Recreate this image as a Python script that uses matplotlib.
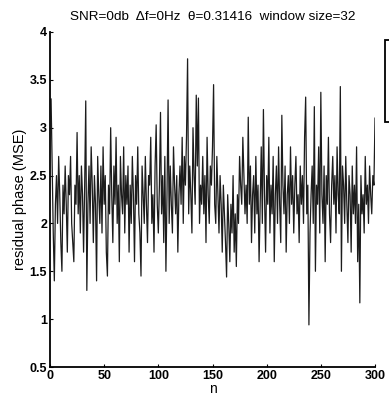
import matplotlib
matplotlib.use("Agg")
import matplotlib.pyplot as plt
from matplotlib.patches import Rectangle
import numpy as np

title = "SNR=0db  \u0394f=0Hz  \u03b8=0.31416  window size=32"
xlabel = "n"
ylabel = "residual phase (MSE)"
xticks = [0, 50, 100, 150, 200, 250, 300]
yticks = [0.5, 1, 1.5, 2, 2.5, 3, 3.5, 4]
ytick_labels = ["0.5", "1", "1.5", "2", "2.5", "3", "3.5", "4"]

mse = [
    3.3, 2.6, 1.9, 1.4, 2.2, 2.5, 2.0, 2.7, 2.3, 1.8, 1.5, 2.4, 2.1, 2.6, 2.2, 1.7, 2.5, 2.3, 2.7, 2.0,
    1.8, 1.6, 2.4, 2.2, 2.95, 2.1, 2.5, 1.9, 2.6, 2.3, 1.7, 2.4, 3.28, 1.3, 2.2, 2.6, 2.0, 2.8, 2.4, 1.8,
    2.5, 2.2, 1.4, 2.7, 2.3, 2.0, 2.6, 1.9, 2.8, 2.2, 2.5, 1.7, 1.45, 2.4, 2.1, 3.0, 2.3, 1.8, 2.6, 2.2,
    2.9, 2.0, 2.4, 1.6, 2.7, 2.3, 2.1, 2.8, 1.9, 2.5, 2.2, 2.6, 1.7, 2.4, 2.0, 2.7, 2.3, 1.6, 2.5, 2.2,
    2.8, 2.1, 1.9, 1.45, 2.6, 2.3, 2.0, 2.7, 2.2, 1.8, 2.5, 2.4, 2.9, 2.0, 2.3, 1.7, 2.6, 3.03, 2.2, 1.9,
    2.4, 3.16, 2.1, 2.5, 1.8, 2.7, 1.5, 2.3, 3.29, 2.0, 2.6, 2.2, 1.9, 2.8, 2.4, 2.1, 2.5, 1.7, 2.3, 2.6,
    2.2, 2.9, 2.0, 2.7, 2.4, 2.9, 3.72, 2.1, 2.6, 2.3, 1.9, 3.0, 2.5, 2.2, 3.34, 2.6, 3.31, 2.0, 2.4, 2.2,
    2.7, 2.1, 2.5, 1.8, 2.9, 2.3, 2.0, 2.6, 2.4, 2.8, 3.45, 2.2, 2.0, 2.7, 2.3, 1.9, 2.5, 2.2, 1.7, 2.4,
    2.1, 1.8, 1.44, 2.3, 2.0, 1.6, 2.2, 1.9, 2.5, 1.7, 2.1, 1.55, 2.3, 2.0, 2.7, 2.4, 2.2, 2.9, 2.5, 2.1,
    2.4, 2.0, 3.11, 2.2, 2.6, 1.8, 2.3, 2.5, 1.9, 2.7, 2.1, 2.4, 1.6, 2.2, 2.8, 2.0, 3.19, 2.3, 1.7, 2.5,
    2.2, 2.9, 1.9, 2.4, 2.1, 2.7, 1.6, 2.3, 2.6, 2.0, 2.8, 2.2, 1.8, 3.13, 2.4, 2.1, 2.6, 1.7, 2.3, 2.5,
    2.0, 2.8, 2.2, 2.5, 1.9, 2.4, 2.7, 2.1, 2.3, 1.8, 2.6, 2.2, 2.5, 2.0, 2.9, 3.32, 2.1, 2.4, 0.94, 1.9,
    2.3, 2.6, 2.0, 3.22, 1.5, 2.4, 2.2, 2.8, 1.9, 3.37, 2.3, 2.0, 2.6, 1.6, 2.5, 2.2, 2.9, 2.1, 1.8, 2.4,
    2.7, 2.2, 2.5, 1.9, 2.8, 2.3, 2.1, 3.43, 1.5, 2.6, 2.4, 2.0, 2.7, 2.2, 1.8, 2.5, 2.3, 1.7, 2.6, 2.1,
    2.4, 2.0, 2.8, 1.6, 2.2, 1.17, 2.5, 2.1, 2.3, 1.9, 2.7, 2.2, 2.4, 2.0, 2.6, 2.3, 2.1, 2.5, 2.4, 3.1,
]
n = np.arange(1, len(mse) + 1)

plt.rcParams['font.family'] = ['Liberation Sans', 'DejaVu Sans']

fig = plt.figure(figsize=(3.89, 3.99), dpi=100)
ax = fig.add_axes([50/389, 1 - 367/399, 325/389, 335/399])
ax.plot(n, mse, color='#1c1c1c', lw=0.9)
ax.set_xlim(0, 300)
ax.set_ylim(0.5, 4)
ax.set_xticks(xticks)
ax.set_yticks(yticks)
ax.set_yticklabels(ytick_labels)
for s in ['top', 'right']:
    ax.spines[s].set_visible(False)
for s in ['left', 'bottom']:
    ax.spines[s].set_linewidth(1.3)
ax.tick_params(direction='in', length=2, width=0.8, labelsize=9, pad=2)
for lab in ax.get_xticklabels() + ax.get_yticklabels():
    lab.set_fontweight('bold')
ax.set_title(title, fontsize=9.7, pad=9)
ax.set_xlabel(xlabel, fontsize=10, labelpad=0)
ax.set_ylabel(ylabel, fontsize=10.5, labelpad=2)

fig.patches.append(Rectangle((385/389, 1 - 122/399), 10/389, 82/399,
                             transform=fig.transFigure, facecolor='white',
                             edgecolor='black', lw=1.3))

fig.savefig("out.png", dpi=100)
